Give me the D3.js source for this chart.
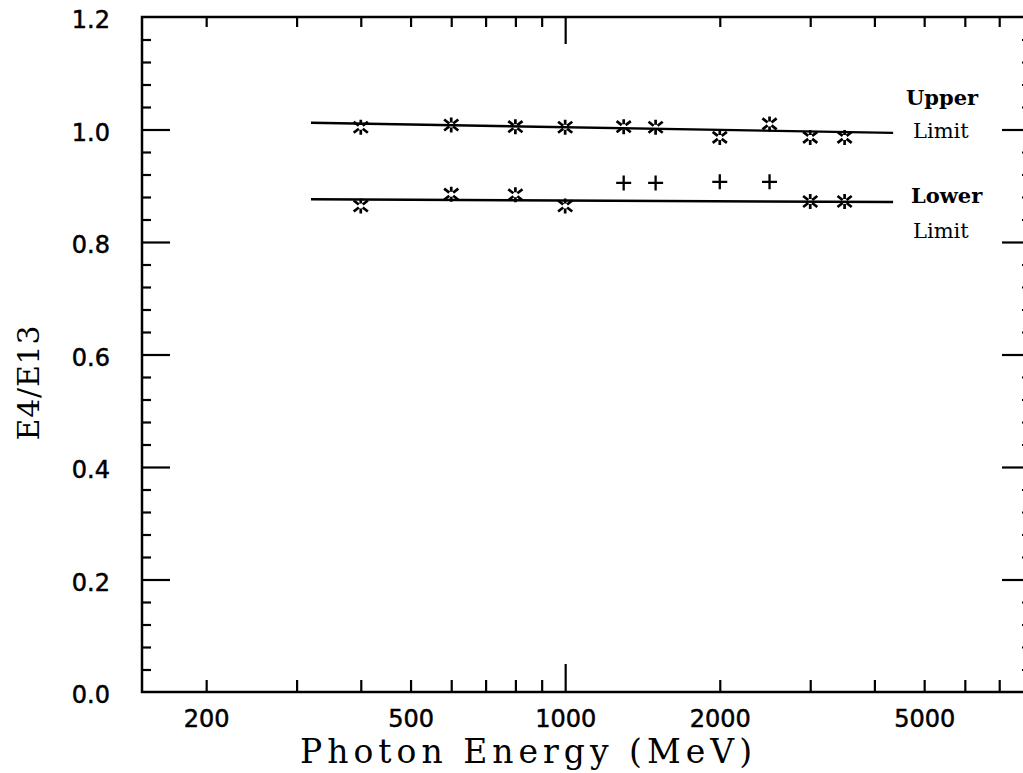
<!DOCTYPE html>
<html>
<head>
<meta charset="utf-8">
<script src="https://cdn.jsdelivr.net/npm/d3@7"></script>
<style>
  body { margin: 0; background: #fff; }
  svg { display: block; }
</style>
</head>
<body>
<div id="chart"></div>
<script>
// values
const starEnergy = [400, 600, 800, 1000, 1300, 1500, 2000, 2500, 3000, 3500];
const upperStar = [1.004, 1.008, 1.005, 1.004, 1.005, 1.004, 0.986, 1.010, 0.986, 0.986];
const lowerStarEnergy = [400, 600, 800, 1000, 3000, 3500];
const lowerStar = [0.864, 0.885, 0.884, 0.864, 0.872, 0.872];
const plusEnergy = [1300, 1500, 2000, 2500];
const plusValue = [0.905, 0.905, 0.907, 0.907];
const limitEnergy = [320, 4350];
const upperLimit = [1.012, 0.994];
const lowerLimit = [0.876, 0.871];
const xLabels = [200, 500, 1000, 2000, 5000];
const xMinor = [200, 300, 400, 500, 600, 700, 800, 900, 2000, 3000, 4000, 5000, 6000, 7000];
const yLabels = [0, 0.2, 0.4, 0.6, 0.8, 1.0, 1.2];

const W = 1023, H = 773;
const plot = {left: 142, right: 1029, top: 17, bottom: 692};

const svg = d3.select("#chart")
    .append("svg")
    .attr("width", W)
    .attr("height", H);

const x = d3.scaleLog().domain([150, 8000]).range([plot.left, plot.right]);
const y = d3.scaleLinear().domain([0, 1.2]).range([plot.bottom, plot.top]);

const yMinor = d3.range(0, 1.2001, 0.04).filter(v => Math.abs(v * 5 - Math.round(v * 5)) > 1e-6);

const tickStyle = g => {
    g.select(".domain").remove();
    g.selectAll("line").attr("stroke", "#000").attr("stroke-width", 2.2);
};

// bottom ticks (pointing up) and labels
svg.append("g").attr("transform", "translate(0," + plot.bottom + ")")
    .call(d3.axisBottom(x).tickValues(xMinor).tickSize(-12).tickFormat(""))
    .call(tickStyle);
svg.append("g").attr("transform", "translate(0," + plot.bottom + ")")
    .call(d3.axisBottom(x).tickValues([1000]).tickSize(-28).tickFormat(""))
    .call(tickStyle);
svg.append("g").attr("transform", "translate(0," + plot.bottom + ")")
    .call(d3.axisBottom(x).tickValues(xLabels).tickSize(0).tickPadding(18).tickFormat(d3.format("d")))
    .call(tickStyle)
    .selectAll("text")
    .attr("font-family", "DejaVu Sans")
    .attr("font-size", 24)
    .attr("stroke", "#000")
    .attr("stroke-width", 0.5)
    .attr("fill", "#000");

// top ticks (pointing down)
svg.append("g").attr("transform", "translate(0," + plot.top + ")")
    .call(d3.axisTop(x).tickValues(xMinor).tickSize(-10).tickFormat(""))
    .call(tickStyle);
svg.append("g").attr("transform", "translate(0," + plot.top + ")")
    .call(d3.axisTop(x).tickValues([1000]).tickSize(-27).tickFormat(""))
    .call(tickStyle);

// left ticks
svg.append("g").attr("transform", "translate(" + plot.left + ",0)")
    .call(d3.axisLeft(y).tickValues(yMinor).tickSize(-9).tickFormat(""))
    .call(tickStyle);
svg.append("g").attr("transform", "translate(" + plot.left + ",0)")
    .call(d3.axisLeft(y).tickValues(yLabels.slice(1, -1)).tickSize(-28).tickFormat(""))
    .call(tickStyle);
svg.append("g").attr("transform", "translate(" + plot.left + ",0)")
    .call(d3.axisLeft(y).tickValues(yLabels).tickSize(0).tickPadding(32).tickFormat(d3.format(".1f")))
    .call(tickStyle)
    .selectAll("text")
    .attr("dy", "0.45em")
    .attr("font-family", "DejaVu Sans")
    .attr("font-size", 24)
    .attr("stroke", "#000")
    .attr("stroke-width", 0.5)
    .attr("fill", "#000");

// right ticks
svg.append("g").attr("transform", "translate(" + plot.right + ",0)")
    .call(d3.axisRight(y).tickValues(yMinor).tickSize(-7).tickFormat(""))
    .call(tickStyle);
svg.append("g").attr("transform", "translate(" + plot.right + ",0)")
    .call(d3.axisRight(y).tickValues(yLabels.slice(1, -1)).tickSize(-27).tickFormat(""))
    .call(tickStyle);

// frame
svg.append("rect")
    .attr("x", plot.left).attr("y", plot.top)
    .attr("width", plot.right - plot.left).attr("height", plot.bottom - plot.top)
    .attr("fill", "none")
    .attr("stroke", "#000")
    .attr("stroke-width", 2.5);

// limit lines
const line = d3.line().x(d => x(d[0])).y(d => y(d[1]));
[upperLimit, lowerLimit].forEach(lim => {
    svg.append("path")
        .datum(limitEnergy.map((e, i) => [e, lim[i]]))
        .attr("d", line)
        .attr("fill", "none")
        .attr("stroke", "#000")
        .attr("stroke-width", 2.4);
});

// asterisk markers
function starPath() {
    let p = "";
    [90, 270, 38, 142, 218, 322].forEach(a => {
        const r = a * Math.PI / 180;
        const r0 = 2.5, r1 = (a === 90 || a === 270) ? 7.5 : 9;
        p += "M" + (r0 * Math.cos(r)).toFixed(2) + "," + (-r0 * Math.sin(r)).toFixed(2) +
             "L" + (r1 * Math.cos(r)).toFixed(2) + "," + (-r1 * Math.sin(r)).toFixed(2);
    });
    return p;
}
const stars = starEnergy.map((e, i) => [e, upperStar[i]])
    .concat(lowerStarEnergy.map((e, i) => [e, lowerStar[i]]));

svg.append("g")
    .selectAll("path")
    .data(stars)
    .join("path")
    .attr("transform", d => "translate(" + x(d[0]) + "," + y(d[1]) + ")")
    .attr("d", starPath())
    .attr("fill", "none")
    .attr("stroke", "#000")
    .attr("stroke-width", 2.7);

svg.append("g")
    .selectAll("path")
    .data(plusEnergy.map((e, i) => [e, plusValue[i]]))
    .join("path")
    .attr("transform", d => "translate(" + x(d[0]) + "," + y(d[1]) + ")")
    .attr("d", "M-7.5,0H7.5M0,-7.5V7.5")
    .attr("fill", "none")
    .attr("stroke", "#000")
    .attr("stroke-width", 2.3);

// limit labels
const lab = (txt, xx, yy, bold) => svg.append("text")
    .attr("x", xx).attr("y", yy)
    .attr("font-family", "DejaVu Serif")
    .attr("font-weight", bold ? "bold" : "normal")
    .attr("font-size", 21)
    .attr("fill", "#000")
    .text(txt);
lab("Upper", 906, 105, true);
lab("Limit", 913, 138, false);
lab("Lower", 911, 203, true);
lab("Limit", 913, 238, false);

// axis titles
svg.append("text")
    .attr("x", 526).attr("y", 763)
    .attr("text-anchor", "middle")
    .attr("font-family", "DejaVu Serif")
    .attr("font-size", 33)
    .attr("textLength", 452)
    .attr("lengthAdjust", "spacing")
    .attr("fill", "#000")
    .text("Photon Energy (MeV)");

svg.append("text")
    .attr("transform", "translate(39,383) rotate(-90)")
    .attr("text-anchor", "middle")
    .attr("font-family", "DejaVu Serif")
    .attr("font-size", 30)
    .attr("textLength", 115)
    .attr("lengthAdjust", "spacing")
    .attr("fill", "#000")
    .text("E4/E13");
</script>
</body>
</html>
